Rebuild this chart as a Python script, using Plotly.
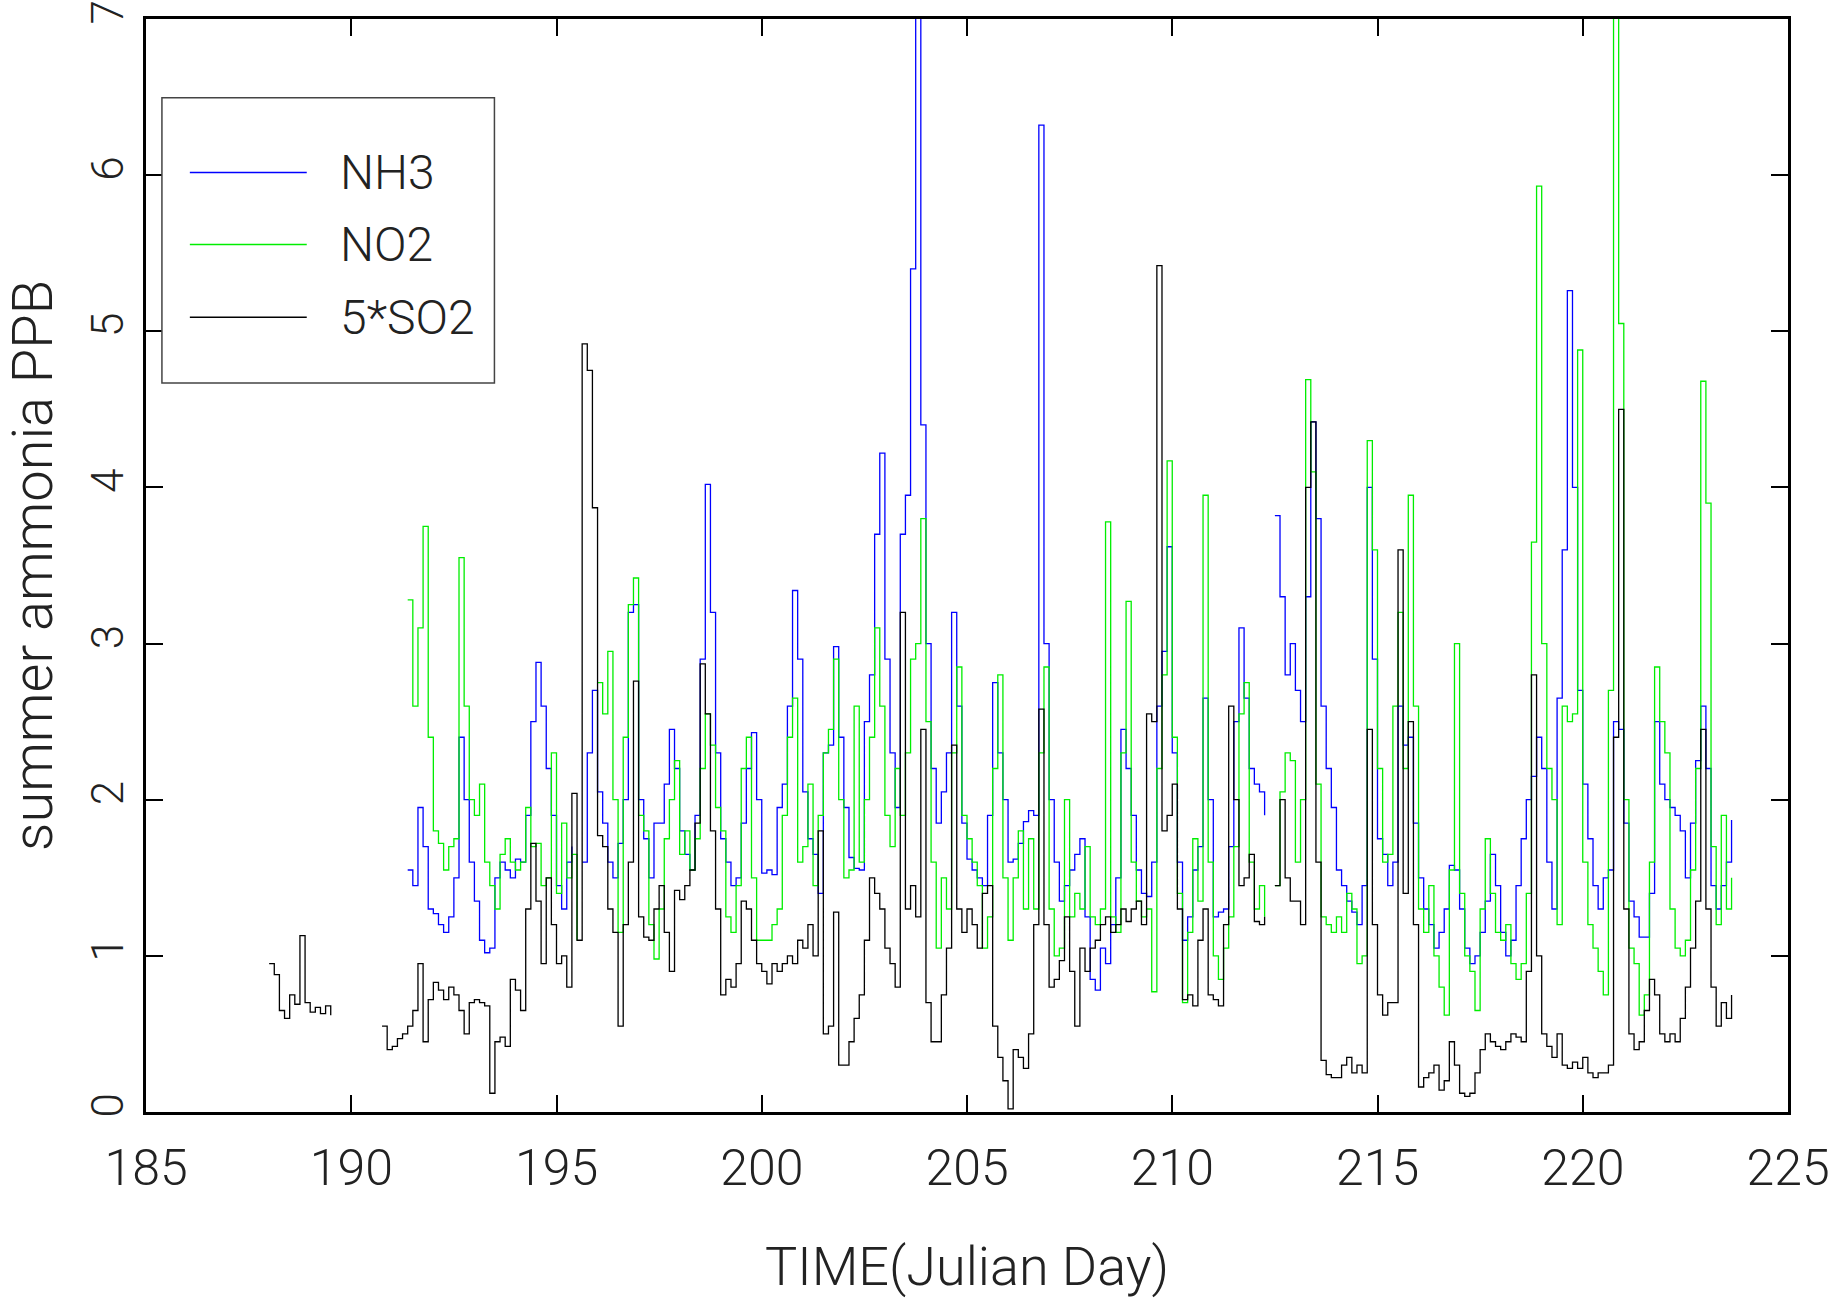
import plotly.graph_objects as go

N = None
T0 = 188.0      # first sample (Julian day)
STEP = 0.125    # 3-hour samples

# NH3 (ppb), 8 samples per day from day 188 to 223
NH3 = (
    [N]*8 + [N]*8 + [N]*8 +
    [N, N, N, 1.55, 1.45, 1.95, 1.7, 1.3] +          # 191
    [1.27, 1.2, 1.15, 1.25, 1.5, 2.4, 2.0, 1.6] +    # 192
    [1.35, 1.1, 1.02, 1.05, 1.5, 1.6, 1.55, 1.5] +   # 193
    [1.62, 1.6, 1.9, 2.5, 2.88, 2.6, 2.2, 1.9] +     # 194
    [1.45, 1.3, 1.6, 1.7, N, 1.6, 2.3, 2.7] +        # 195
    [2.05, 1.85, 1.6, 1.5, 1.72, 2.0, 3.2, 3.25] +   # 196
    [2.0, 1.75, 1.5, 1.85, 1.85, 2.1, 2.45, 2.2] +   # 197
    [1.8, 1.65, 1.55, 1.9, 2.9, 4.02, 3.2, 2.3] +    # 198
    [1.75, 1.6, 1.45, 1.5, 1.85, 2.2, 2.43, 2.0] +   # 199
    [1.53, 1.55, 1.52, 1.95, 2.1, 2.6, 3.34, 2.9] +  # 200
    [2.05, 1.75, 1.65, 1.4, 2.3, 2.35, 2.98, 2.4] +  # 201
    [1.95, 1.63, 1.56, 1.55, 2.5, 2.8, 3.7, 4.22] +  # 202
    [2.9, 2.3, 1.95, 3.7, 3.95, 5.4, 7.3, 4.4] +     # 203
    [3.0, 2.2, 1.85, 2.05, 2.3, 3.2, 2.6, 1.85] +    # 204
    [1.62, 1.55, 1.5, 1.45, 1.9, 2.75, 2.3, 2.0] +   # 205
    [1.6, 1.62, 1.72, 1.86, 1.93, 1.9, 6.32, 3.0] +  # 206
    [2.0, 1.6, 1.35, 1.45, 1.55, 1.65, 1.75, 1.25] + # 207
    [0.85, 0.78, 1.05, 0.95, 1.2, 1.5, 2.45, 2.2] +  # 208
    [1.9, 1.55, 1.4, 1.38, 1.6, 2.6, 2.95, 3.62] +   # 209
    [2.3, 1.6, 1.1, 1.25, 1.55, 1.7, 2.65, 2.0] +    # 210
    [1.25, 1.28, 1.3, 1.7, 2.5, 3.1, 2.65, 2.2] +    # 211
    [2.1, 2.05, 1.9, N, 3.82, 3.3, 2.8, 3.0] +       # 212
    [2.7, 2.5, 3.3, 4.42, 3.8, 2.6, 2.2, 1.95] +     # 213
    [1.55, 1.45, 1.35, 1.28, 1.2, 1.45, 4.0, 2.9] +  # 214
    [1.75, 1.65, 1.45, 1.6, 2.6, 2.35, 2.4, 1.85] +  # 215
    [1.5, 1.3, 1.2, 1.05, 1.15, 1.3, 1.58, 1.55] +   # 216
    [1.3, 1.05, 0.95, 1.0, 1.15, 1.35, 1.65, 1.45] + # 217
    [1.15, 1.0, 1.1, 1.45, 1.75, 2.0, 2.15, 2.4] +   # 218
    [2.2, 1.6, 1.3, 2.65, 3.6, 5.26, 4.0, 2.7] +     # 219
    [2.1, 1.75, 1.45, 1.3, 1.5, 1.55, 2.5, 2.45] +   # 220
    [1.85, 1.35, 1.25, 1.12, 1.12, 1.4, 2.5, 2.1] +  # 221
    [2.0, 1.95, 1.9, 1.8, 1.5, 1.85, 2.25, 2.6] +    # 222
    [2.2, 1.45, 1.3, 1.45, 1.6, 1.87, N, N]          # 223
)

# NO2 (ppb)
NO2 = (
    [N]*8 + [N]*8 + [N]*8 +
    [N, N, N, 3.28, 2.6, 3.1, 3.75, 2.4] +           # 191
    [1.8, 1.72, 1.55, 1.7, 1.75, 3.55, 2.6, 2.0] +   # 192
    [1.9, 2.1, 1.6, 1.45, 1.3, 1.65, 1.75, 1.6] +    # 193
    [1.55, 1.6, 1.95, 1.7, 1.72, 1.45, 1.5, 2.3] +   # 194
    [1.4, 1.85, 1.5, 1.65, 1.1, N, N, N] +           # 195
    [2.75, 2.55, 2.95, 2.0, 1.15, 2.4, 3.25, 3.42] + # 196
    [1.9, 1.8, 1.2, 0.98, 1.3, 1.75, 2.0, 2.25] +    # 197
    [1.65, 1.8, 1.55, 1.75, 2.2, 2.55, 2.35, 1.95] + # 198
    [1.8, 1.25, 1.15, 1.45, 2.2, 2.4, 1.5, 1.1] +    # 199
    [1.1, 1.1, 1.2, 1.3, 1.9, 2.4, 2.65, 1.6] +      # 200
    [1.7, 2.1, 1.45, 1.9, 2.3, 2.45, 2.9, 2.0] +     # 201
    [1.5, 1.55, 2.6, 1.6, 2.0, 2.4, 3.1, 2.6] +      # 202
    [1.9, 1.7, 2.2, 1.9, 2.3, 2.9, 3.0, 3.8] +       # 203
    [2.5, 1.6, 1.05, 1.5, 1.3, 2.3, 2.85, 1.9] +     # 204
    [1.75, 1.6, 1.45, 1.05, 1.25, 2.2, 2.8, 1.5] +   # 205
    [1.1, 1.5, 1.8, 1.3, 1.75, 1.3, 2.3, 2.85] +     # 206
    [1.3, 1.0, 1.05, 2.0, 1.25, 1.4, 1.3, 1.7] +     # 207
    [1.25, 1.2, 1.3, 3.78, 1.25, 1.15, 2.3, 3.27] +  # 208
    [1.6, 1.35, 1.25, 1.3, 0.77, 2.2, 2.8, 4.17] +   # 209
    [2.4, 1.4, 0.7, 1.15, 1.75, 1.35, 3.95, 1.6] +   # 210
    [1.0, 0.85, 1.05, 1.25, 1.7, 2.55, 2.75, 1.6] +  # 211
    [1.3, 1.45, 1.25, N, 1.45, 2.05, 2.3, 2.25] +    # 212
    [1.6, 2.0, 4.69, 4.1, 2.1, 1.25, 1.2, 1.15] +    # 213
    [1.25, 1.15, 1.4, 1.3, 0.95, 1.0, 4.3, 3.6] +    # 214
    [2.2, 1.6, 1.65, 2.6, 3.2, 2.2, 3.95, 2.6] +     # 215
    [1.3, 1.15, 1.45, 1.0, 0.8, 0.62, 1.55, 3.0] +   # 216
    [1.4, 1.0, 0.9, 0.65, 1.3, 1.75, 1.4, 1.15] +    # 217
    [1.1, 1.2, 0.95, 0.85, 0.95, 1.4, 3.65, 5.93] +  # 218
    [3.0, 2.2, 2.0, 1.2, 2.6, 2.5, 2.55, 4.88] +     # 219
    [1.6, 1.2, 1.05, 0.9, 0.75, 2.7, 7.3, 5.05] +    # 220
    [2.0, 1.05, 0.95, 0.62, 0.75, 1.6, 2.85, 2.5] +  # 221
    [2.3, 1.3, 1.05, 1.0, 1.1, 1.55, 2.2, 4.68] +    # 222
    [3.9, 1.7, 1.2, 1.9, 1.3, 1.5, N, N]             # 223
)

# 5 x SO2 (ppb)
SO2X5 = (
    [0.95, 0.88, 0.65, 0.6, 0.75, 0.69, 1.13, 0.7] +  # 188
    [0.64, 0.67, 0.63, 0.68, 0.62, N, N, N] +         # 189
    [N, N, N, N, N, N, 0.55, 0.4] +                   # 190
    [0.42, 0.47, 0.5, 0.55, 0.65, 0.95, 0.45, 0.72] + # 191
    [0.83, 0.78, 0.72, 0.8, 0.75, 0.65, 0.5, 0.7] +   # 192
    [0.72, 0.7, 0.68, 0.12, 0.45, 0.48, 0.42, 0.85] + # 193
    [0.78, 0.65, 1.3, 1.72, 1.35, 0.95, 1.5, 1.2] +   # 194
    [0.95, 1.0, 0.8, 2.04, 1.1, 4.92, 4.75, 3.87] +   # 195
    [1.77, 1.7, 1.3, 1.15, 0.55, 1.2, 1.6, 2.76] +    # 196
    [1.25, 1.12, 1.1, 1.3, 1.45, 1.15, 0.9, 1.42] +   # 197
    [1.36, 1.45, 1.55, 1.85, 2.87, 2.55, 1.8, 1.3] +  # 198
    [0.75, 0.85, 0.8, 0.95, 1.35, 1.3, 1.1, 0.95] +   # 199
    [0.9, 0.82, 0.95, 0.9, 0.95, 1.0, 0.95, 1.1] +    # 200
    [1.05, 1.2, 1.0, 1.8, 0.5, 0.55, 1.28, 0.3] +     # 201
    [0.3, 0.45, 0.6, 0.75, 1.1, 1.5, 1.4, 1.3] +      # 202
    [1.05, 0.95, 0.8, 3.2, 1.3, 1.45, 1.25, 2.45] +   # 203
    [0.7, 0.45, 0.45, 0.75, 1.05, 2.35, 1.3, 1.15] +  # 204
    [1.3, 1.2, 1.05, 1.4, 1.45, 0.55, 0.35, 0.2] +    # 205
    [0.02, 0.4, 0.35, 0.28, 0.5, 1.2, 2.58, 1.2] +    # 206
    [0.8, 0.85, 0.97, 1.25, 0.9, 0.55, 1.05, 0.9] +   # 207
    [1.05, 1.1, 1.2, 1.25, 1.15, 1.2, 1.3, 1.22] +    # 208
    [1.3, 1.35, 1.2, 2.55, 2.5, 5.42, 1.8, 1.9] +     # 209
    [2.1, 1.3, 0.72, 0.75, 0.68, 1.1, 1.3, 0.75] +    # 210
    [0.72, 0.68, 1.2, 2.6, 2.0, 1.45, 1.5, 1.65] +    # 211
    [1.22, 1.2, 1.25, N, 1.45, 2.0, 1.5, 1.35] +      # 212
    [1.35, 1.2, 4.0, 4.42, 1.6, 0.33, 0.24, 0.22] +   # 213
    [0.22, 0.3, 0.35, 0.25, 0.3, 0.25, 2.45, 1.2] +   # 214
    [0.75, 0.62, 0.7, 0.7, 3.6, 1.4, 2.5, 1.2] +      # 215
    [0.16, 0.22, 0.25, 0.3, 0.14, 0.2, 0.45, 0.3] +   # 216
    [0.12, 0.1, 0.12, 0.25, 0.4, 0.5, 0.45, 0.42] +   # 217
    [0.4, 0.45, 0.5, 0.48, 0.45, 0.9, 2.8, 1.0] +     # 218
    [0.5, 0.42, 0.35, 0.5, 0.3, 0.28, 0.32, 0.28] +   # 219
    [0.35, 0.25, 0.22, 0.25, 0.25, 0.3, 2.4, 4.5] +   # 220
    [1.3, 0.5, 0.4, 0.45, 0.65, 0.85, 0.75, 0.5] +    # 221
    [0.45, 0.5, 0.45, 0.6, 0.8, 1.05, 1.35, 2.45] +   # 222
    [1.3, 0.8, 0.55, 0.7, 0.6, 0.75, N, N]            # 223
)

SERIES_NAMES = ["NH3", "NO2", "5*SO2"]
X_TICKS = [185, 190, 195, 200, 205, 210, 215, 220, 225]
Y_TICKS = [0, 1, 2, 3, 4, 5, 6, 7]

TIME = [T0 + STEP * i for i in range(len(SO2X5))]

COLORS = ["#0000ff", "#00ee00", "#000000"]
FONT = "Roboto, Lato, DejaVu Sans, sans-serif"
TXT = "#222222"

fig = go.Figure()
for name, vals, col in zip(SERIES_NAMES, [NH3, NO2, SO2X5], COLORS):
    fig.add_trace(go.Scatter(
        x=TIME, y=vals, name=name, mode="lines",
        line=dict(color=col, width=1.3, shape="hv"),
        connectgaps=False, showlegend=False,
    ))

# legend drawn as a boxed key
L_X0, L_X1, L_Y0, L_Y1 = 0.0097, 0.2122, 0.667, 0.928
fig.add_shape(type="rect", xref="paper", yref="paper",
              x0=L_X0, x1=L_X1, y0=L_Y0, y1=L_Y1,
              line=dict(color="#444444", width=1.5), fillcolor="white", layer="above")
ROWS = [0.8595, 0.7938, 0.7272]
for name, col, yy in zip(SERIES_NAMES, COLORS, ROWS):
    fig.add_shape(type="line", xref="paper", yref="paper",
                  x0=0.0267, x1=0.0979, y0=yy, y1=yy,
                  line=dict(color=col, width=1.5), layer="above")
    fig.add_annotation(xref="paper", yref="paper", x=0.1167, y=yy,
                       text=name, showarrow=False, xanchor="left", yanchor="middle",
                       font=dict(family=FONT, size=48, color=TXT, weight=300))

axis_common = dict(
    showgrid=False, zeroline=False, automargin=False,
    showline=True, linecolor="black", linewidth=3, mirror="ticks",
    ticks="inside", ticklen=17, tickwidth=1.5, tickcolor="black",
)

fig.update_layout(
    width=1831, height=1302,
    margin=dict(l=146, r=43, t=19, b=190),
    paper_bgcolor="white", plot_bgcolor="white",
    showlegend=False,
    xaxis=dict(
        range=[185, 225], tickvals=X_TICKS, ticktext=[str(v) for v in X_TICKS],
        tickfont=dict(family=FONT, size=50, color=TXT, weight=300),
        ticklabelstandoff=10,
        title=dict(text="TIME(Julian Day)", standoff=52,
                   font=dict(family=FONT, size=54, color=TXT, weight=300)),
        **axis_common,
    ),
    yaxis=dict(
        range=[0, 7], tickvals=Y_TICKS, ticktext=[str(v) for v in Y_TICKS],
        tickangle=-90,
        tickfont=dict(family=FONT, size=44, color=TXT, weight=300),
        ticklabelstandoff=2,
        title=dict(text="summer ammonia PPB", standoff=40,
                   font=dict(family=FONT, size=56, color=TXT, weight=300)),
        **axis_common,
    ),
)

fig.write_html("out.html")
